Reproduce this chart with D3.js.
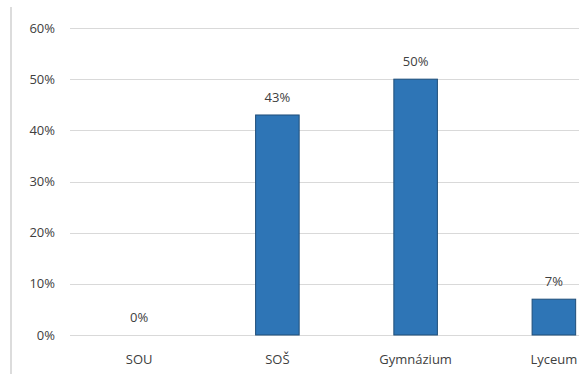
<!DOCTYPE html>
<meta charset="UTF-8">
<script src="https://cdnjs.cloudflare.com/ajax/libs/d3/7.8.5/d3.min.js"></script>
<style>
  body { margin: 0; background: #fff; }
  svg { display: block; font-family: "Open Sans", "Liberation Sans", sans-serif; }
</style>
<svg id="chart"></svg>
<script>
// data
const categories = ["SOU", "SOŠ", "Gymnázium", "Lyceum"];
const values = [0, 0.43, 0.50, 0.07];
const yTicks = [0, 0.1, 0.2, 0.3, 0.4, 0.5, 0.6];

const width = 579, height = 374;
const svg = d3.select("#chart").attr("width", width).attr("height", height);

// plot area runs past the right edge (the reference is cropped)
const x = d3.scaleBand().domain(categories).range([70, 623]).padding(0);
const y = d3.scaleLinear().domain([0, 0.6]).range([335, 28]);
const fmt = d3.format(".0%");
const textColor = "#404040";

// chart border on the left
svg.append("line")
    .attr("x1", 11).attr("x2", 11)
    .attr("y1", 7).attr("y2", height)
    .attr("stroke", "#d0d0d0").attr("stroke-width", 1.5);

// gridlines
svg.append("g")
    .selectAll("line")
    .data(yTicks)
    .join("line")
    .attr("x1", 70).attr("x2", width)
    .attr("y1", d => Math.round(y(d)) + 0.5)
    .attr("y2", d => Math.round(y(d)) + 0.5)
    .attr("stroke", "#d9d9d9").attr("stroke-width", 1);

// y tick labels
svg.append("g")
    .selectAll("text")
    .data(yTicks)
    .join("text")
    .attr("x", 55)
    .attr("y", d => y(d))
    .attr("dy", "0.35em")
    .attr("text-anchor", "end")
    .attr("font-size", 13)
    .attr("fill", textColor)
    .text(fmt);

// bars
const barW = x.bandwidth() * 0.315;
svg.append("g")
    .selectAll("rect")
    .data(values)
    .join("rect")
    .attr("x", (d, i) => x(categories[i]) + x.bandwidth() / 2 - barW / 2)
    .attr("y", d => y(d))
    .attr("width", barW)
    .attr("height", d => y(0) - y(d))
    .attr("fill", "#2e75b6")
    .attr("stroke", "#1f4e79")
    .attr("stroke-width", d => d > 0 ? 1 : 0);

// value labels
svg.append("g")
    .selectAll("text")
    .data(values)
    .join("text")
    .attr("x", (d, i) => x(categories[i]) + x.bandwidth() / 2)
    .attr("y", d => y(d) - 13)
    .attr("text-anchor", "middle")
    .attr("font-size", 13)
    .attr("fill", textColor)
    .text(fmt);

// category labels
svg.append("g")
    .selectAll("text")
    .data(categories)
    .join("text")
    .attr("x", d => x(d) + x.bandwidth() / 2)
    .attr("y", 364)
    .attr("text-anchor", "middle")
    .attr("font-size", 13)
    .attr("fill", textColor)
    .text(d => d);
</script>
